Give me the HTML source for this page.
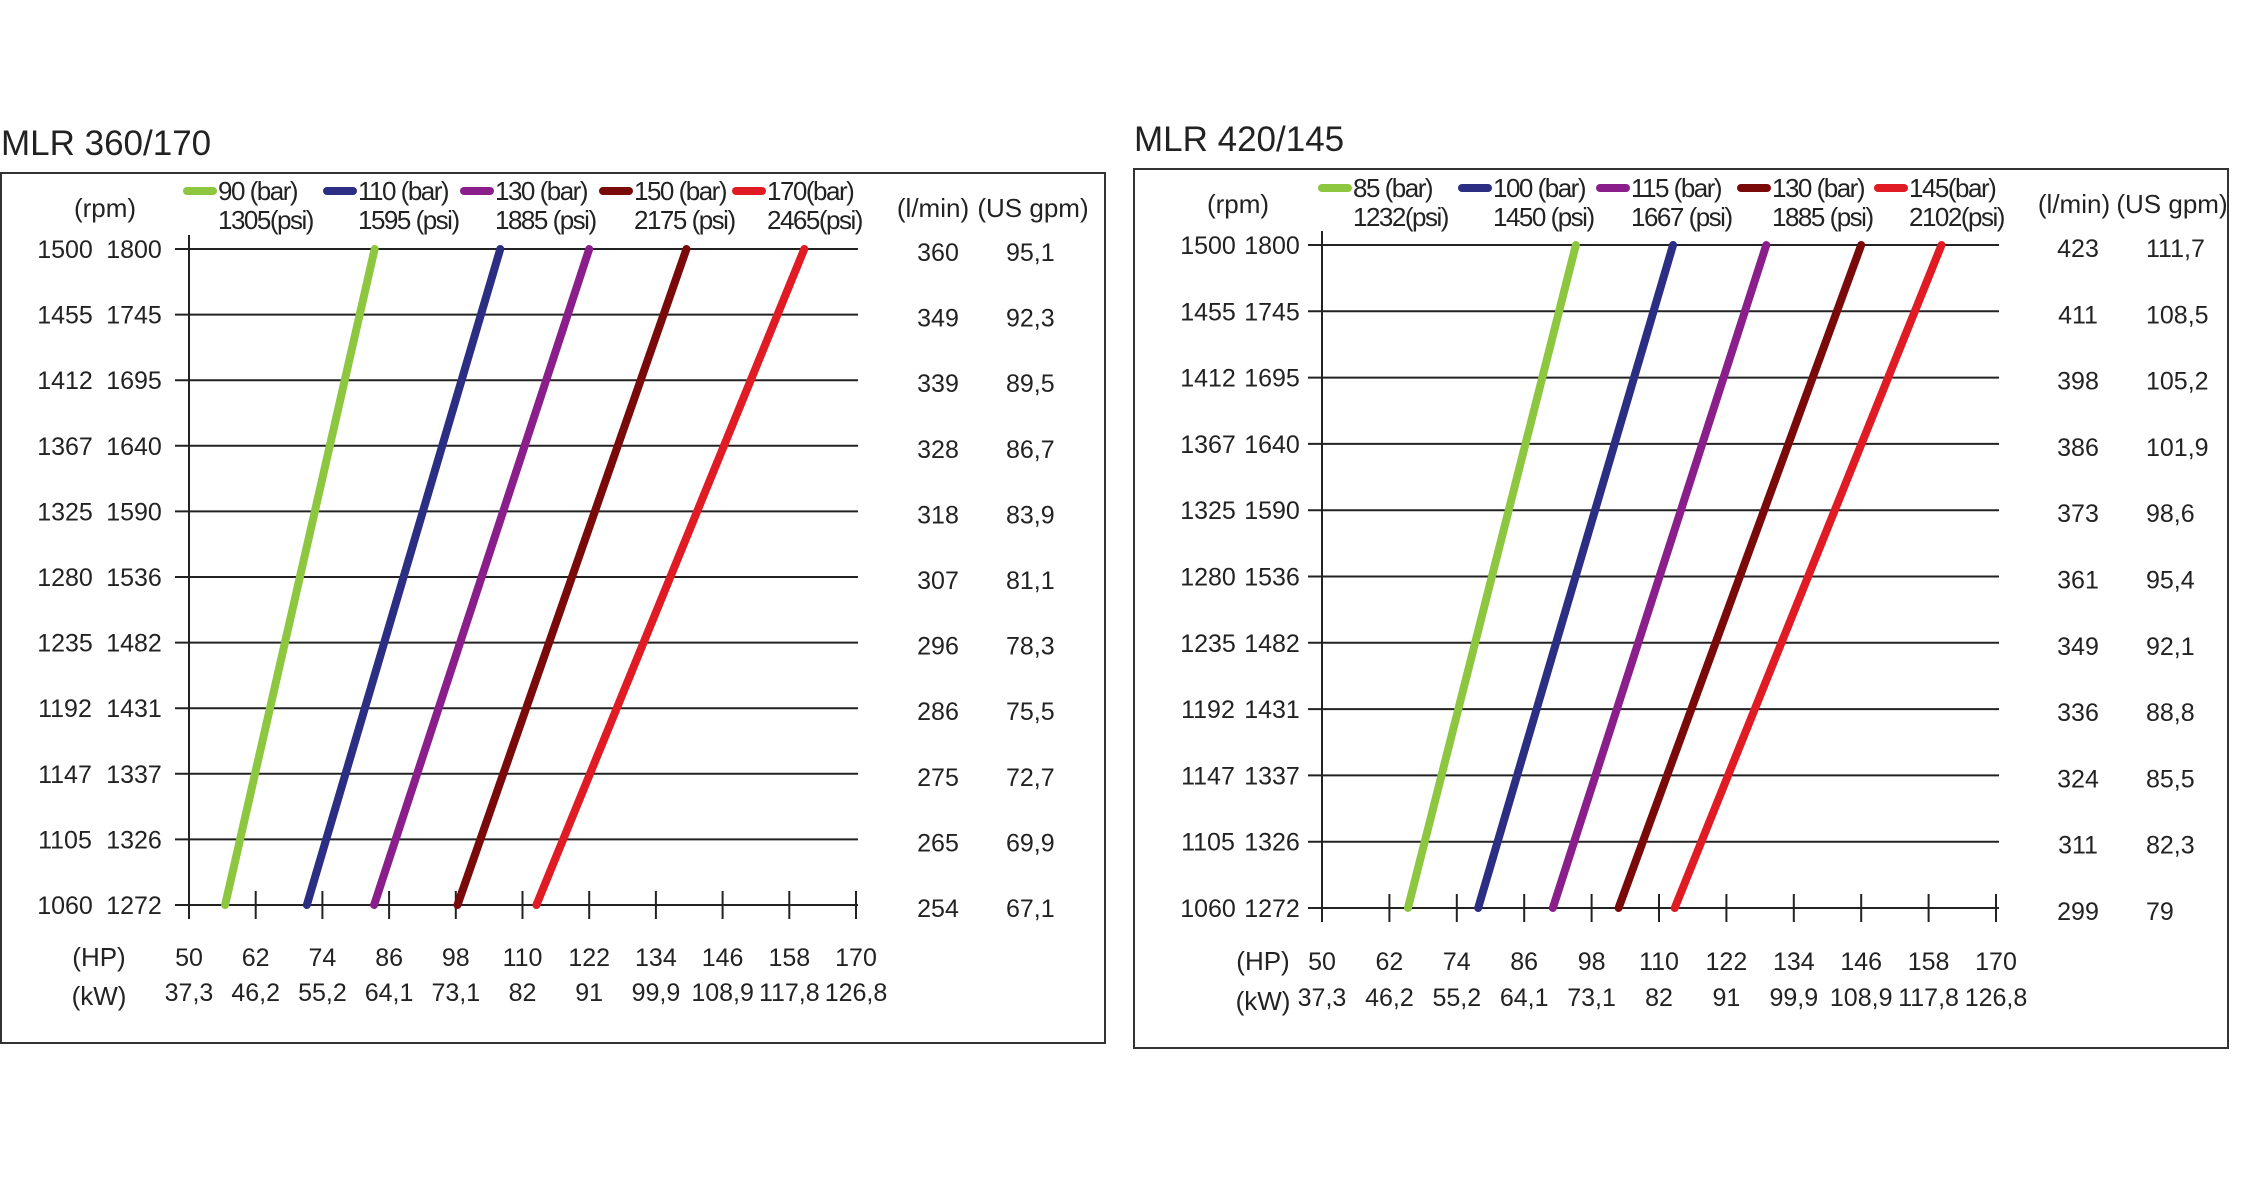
<!DOCTYPE html>
<html><head><meta charset="utf-8">
<style>
html,body{margin:0;padding:0;background:#fff;}
svg{display:block;font-family:"Liberation Sans",sans-serif;}
</style></head>
<body>
<svg id="c" width="2250" height="1180" viewBox="0 0 2250 1180" xmlns="http://www.w3.org/2000/svg"></svg>
<script>
// Shared axis data
const rpmA = [1500,1455,1412,1367,1325,1280,1235,1192,1147,1105,1060];
const rpmB = [1800,1745,1695,1640,1590,1536,1482,1431,1337,1326,1272];
const hpTicks = [50,62,74,86,98,110,122,134,146,158,170];
const kwTicks = ["37,3","46,2","55,2","64,1","73,1","82","91","99,9","108,9","117,8","126,8"];
const colors = ["#8dc63f","#2b2e83","#8a1f8c","#7a0a0a","#e01b24"];
// Chart 1: MLR 360/170
const lmin1 = ["360","349","339","328","318","307","296","286","275","265","254"];
const gpm1 = ["95,1","92,3","89,5","86,7","83,9","81,1","78,3","75,5","72,7","69,9","67,1"];
const bar1 = ["90 (bar)","110 (bar)","130 (bar)","150 (bar)","170(bar)"];
const psi1 = ["1305(psi)","1595 (psi)","1885 (psi)","2175 (psi)","2465(psi)"];
const hpLow1 = [56.5,71.2,83.3,98.3,112.5];
const hpHigh1 = [83.4,106,122,139.5,160.7];
// Chart 2: MLR 420/145
const lmin2 = ["423","411","398","386","373","361","349","336","324","311","299"];
const gpm2 = ["111,7","108,5","105,2","101,9","98,6","95,4","92,1","88,8","85,5","82,3","79"];
const bar2 = ["85 (bar)","100 (bar)","115 (bar)","130 (bar)","145(bar)"];
const psi2 = ["1232(psi)","1450 (psi)","1667 (psi)","1885 (psi)","2102(psi)"];
const hpLow2 = [65.3,77.8,91.1,102.8,112.8];
const hpHigh2 = [95.2,112.5,129.1,146,160.3];

const NS="http://www.w3.org/2000/svg";
const svg=document.getElementById('c');
function mk(tag,attrs,parent,txt){const e=document.createElementNS(NS,tag);for(const k in attrs)e.setAttribute(k,attrs[k]);if(txt!==undefined)e.textContent=txt;(parent||svg).appendChild(e);return e;}

function chart(cfg){
  const g=mk('g',{});
  
  
  const b=mk('rect',{x:cfg.bx,y:cfg.by,width:cfg.bw,height:cfg.bh,fill:'none',stroke:'#333','stroke-width':2},g);
  
  
  const t=mk('text',{x:cfg.bx,y:cfg.by-18,'font-size':35,fill:'#222'},g,cfg.title);
  
  
  const x=v=>cfg.x0+(v-50)/120*(cfg.x1-cfg.x0);
  const y=i=>cfg.yTop+i*(cfg.yBot-cfg.yTop)/10;
  for(let i=0;i<rpmA.length;i++){
    const l=mk('line',{x1:cfg.x0-14,x2:cfg.gEnd,y1:y(i),y2:y(i),stroke:'#222','stroke-width':2},g);
    
    
    const a=mk('text',{x:cfg.rpmX,y:y(i)+9,'font-size':25,'text-anchor':'middle',fill:'#222'},g,rpmA[i]);
    
    
    const c=mk('text',{x:cfg.rpm2X,y:y(i)+9,'font-size':25,'text-anchor':'middle',fill:'#222'},g,rpmB[i]);
    
    
    const d=mk('text',{x:cfg.lX,y:y(i)+12,'font-size':25,'text-anchor':'middle',fill:'#222'},g,cfg.lmin[i]);
    
    
    const e=mk('text',{x:cfg.gX,y:y(i)+12,'font-size':25,'text-anchor':'start',fill:'#222'},g,cfg.gpm[i]);
    
    
  }
  const ax=mk('line',{x1:cfg.x0,x2:cfg.x0,y1:cfg.yTop-14,y2:cfg.yBot+14,stroke:'#222','stroke-width':2},g);
  
  
  for(let i=0;i<hpTicks.length;i++){
    const xx=x(hpTicks[i]);
    const tk=mk('line',{x1:xx,x2:xx,y1:cfg.yBot-14,y2:cfg.yBot+14,stroke:'#222','stroke-width':2},g);
    
    
    const h=mk('text',{x:xx,y:cfg.hpY,'font-size':25,'text-anchor':'middle',fill:'#222'},g,hpTicks[i]);
    
    
    const k=mk('text',{x:xx,y:cfg.kwY,'font-size':25,'text-anchor':'middle',fill:'#222'},g,kwTicks[i]);
    
    
  }
  const hd=[['(rpm)',cfg.rpmHX,cfg.headY,'rpm-header'],['(l/min)',cfg.lHX,cfg.headY,'lmin-header'],['(US gpm)',cfg.gHX,cfg.headY,'gpm-header'],['(HP)',cfg.hpLX,cfg.hpY,'hp-axis-title'],['(kW)',cfg.hpLX,cfg.kwY+4,'kw-axis-title']];
  hd.forEach(h=>{const e=mk('text',{x:h[1],y:h[2],'font-size':26,'text-anchor':'middle',fill:'#222'},g,h[0]);
    
    });
  for(let s=0;s<5;s++){
    const ln=mk('line',{x1:x(cfg.low[s]),y1:y(10),x2:x(cfg.high[s]),y2:y(0),stroke:colors[s],'stroke-width':8,'stroke-linecap':'round'},g);
    
    
    const lx=cfg.legX[s];
    const sw=mk('line',{x1:lx,x2:lx+26,y1:cfg.legY-9,y2:cfg.legY-9,stroke:colors[s],'stroke-width':8,'stroke-linecap':'round'},g);
    
    
    const t1=mk('text',{x:lx+31,y:cfg.legY,'font-size':26,fill:'#222','letter-spacing':-1.5},g,cfg.bar[s]);
    
    
    const t2=mk('text',{x:lx+31,y:cfg.legY+29,'font-size':26,fill:'#222','letter-spacing':-1.5},g,cfg.psi[s]);
    
    
  }
}
chart({name:'chart-mlr-360-170',title:'MLR 360/170',bx:1,by:173,bw:1104,bh:870,x0:189,x1:856,gEnd:858,yTop:249,yBot:905,
  rpmX:65,rpm2X:134,lX:938,gX:1006,rpmHX:105,lHX:933,gHX:1033,headY:217,hpLX:99,hpY:966,kwY:1001,
  lmin:lmin1,gpm:gpm1,bar:bar1,psi:psi1,low:hpLow1,high:hpHigh1,legX:[187,327,464,603,736],legY:200});
chart({name:'chart-mlr-420-145',title:'MLR 420/145',bx:1134,by:169,bw:1094,bh:879,x0:1322,x1:1996,gEnd:1999,yTop:245,yBot:908,
  rpmX:1208,rpm2X:1272,lX:2078,gX:2146,rpmHX:1238,lHX:2074,gHX:2172,headY:213,hpLX:1263,hpY:970,kwY:1006,
  lmin:lmin2,gpm:gpm2,bar:bar2,psi:psi2,low:hpLow2,high:hpHigh2,legX:[1322,1462,1600,1741,1878],legY:197});
</script>
</body></html>
